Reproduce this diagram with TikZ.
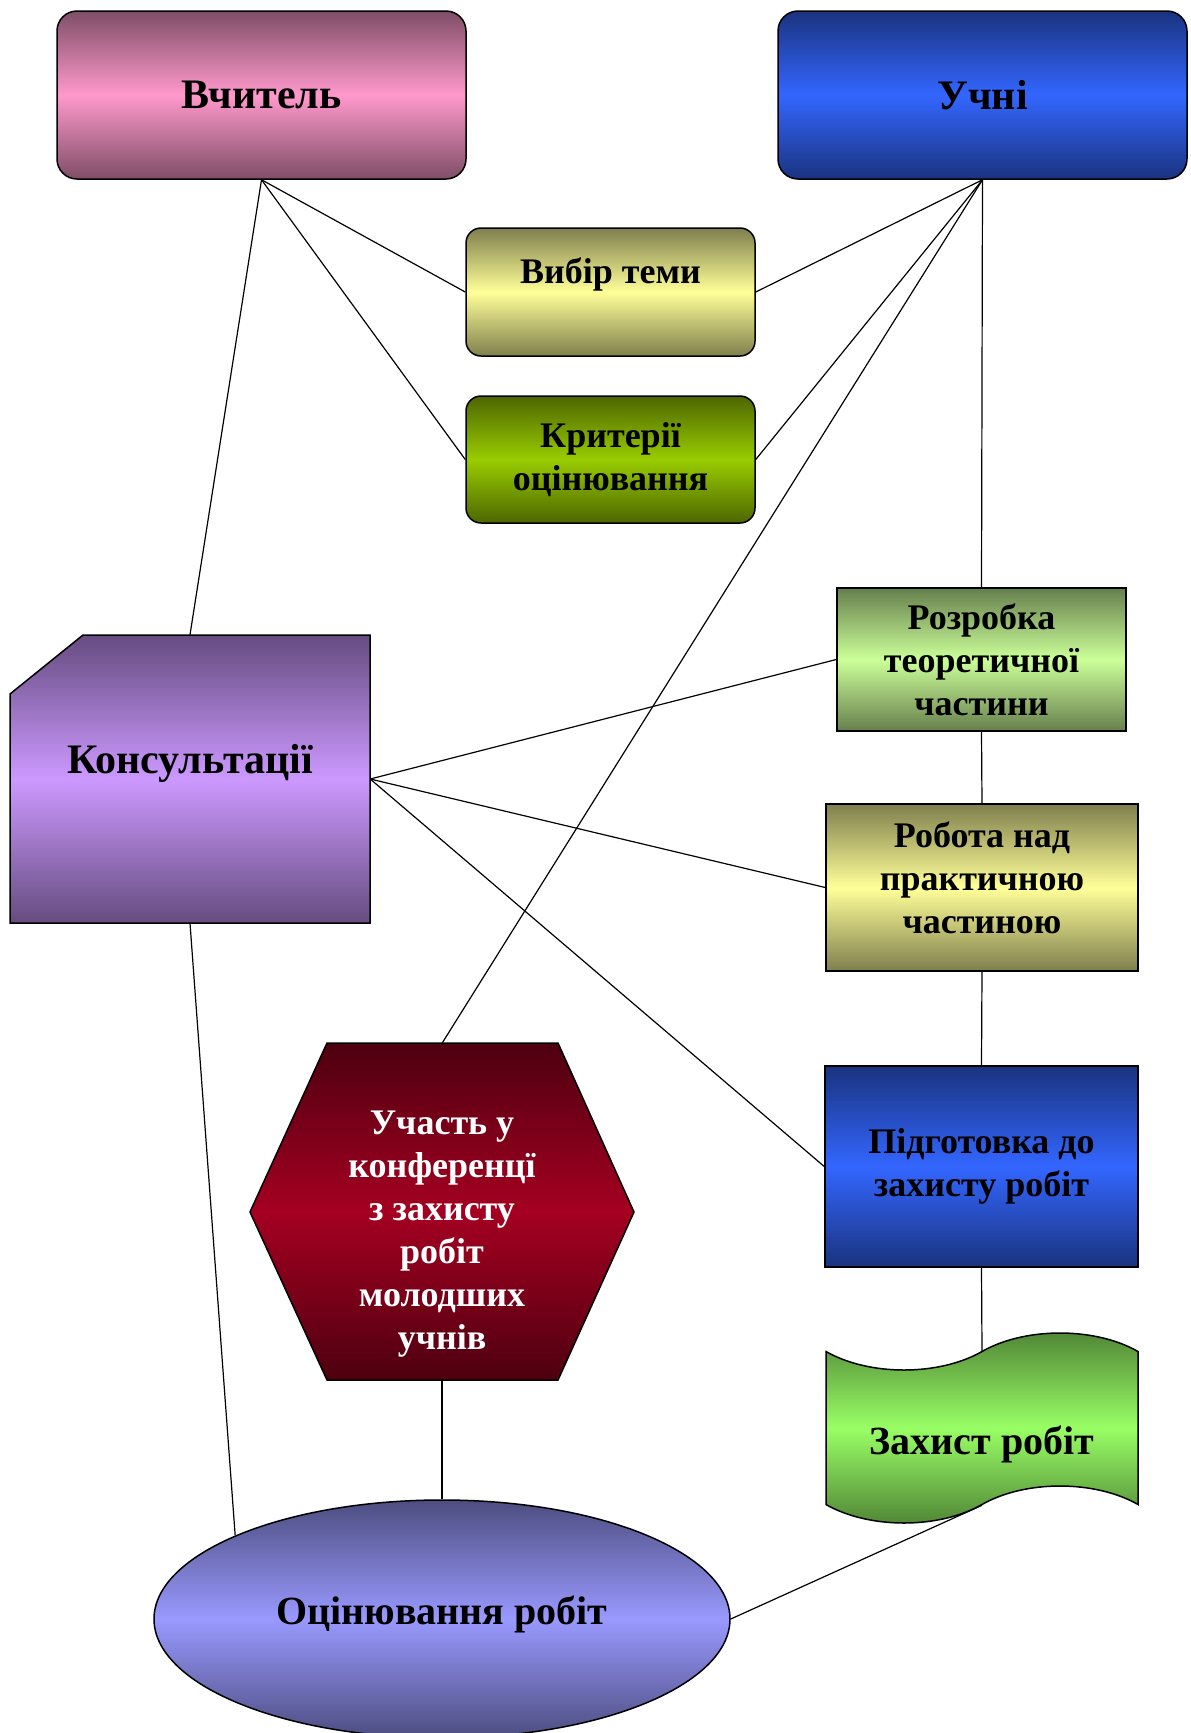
\documentclass[tikz,border=0pt]{standalone}
\usepackage{fontspec}
\setmainfont{Liberation Serif}
\usetikzlibrary{shapes, shapes.symbols, positioning}

\definecolor{pinkmid}{HTML}{FF99CC}
\definecolor{pinkedge}{HTML}{7F4D66}
\definecolor{bluemid}{HTML}{3366FF}
\definecolor{blueedge}{HTML}{1A337F}
\definecolor{yellowmid}{HTML}{FFFF99}
\definecolor{yellowedge}{HTML}{7F7F4D}
\definecolor{olivemid}{HTML}{99CC00}
\definecolor{oliveedge}{HTML}{4D6600}
\definecolor{violetmid}{HTML}{CC99FF}
\definecolor{violetedge}{HTML}{664C80}
\definecolor{limemid}{HTML}{CCFF99}
\definecolor{limeedge}{HTML}{667F4D}
\definecolor{greenmid}{HTML}{99FF66}
\definecolor{greenedge}{HTML}{4D8033}
\definecolor{redmid}{HTML}{A50021}
\definecolor{rededge}{HTML}{4D0010}
\definecolor{lilacmid}{HTML}{9999FF}
\definecolor{lilacedge}{HTML}{4D4D80}

\begin{document}
\begin{tikzpicture}[x=1pt, y=-1pt,
    box/.style={draw, line width=1.5pt, align=center, inner sep=2pt,
        font=\bfseries\fontsize{36}{43}\selectfont},
    grad/.style 2 args={top color=#2, bottom color=#2, middle color=#1},
    link/.style={line width=1.2pt}]
        \useasboundingbox (0,0) rectangle (1191,1733);

        % Draw the blocks
        \node (vchytel) [box, grad={pinkmid}{pinkedge}, rounded corners=20pt, minimum width=409pt, minimum height=168pt, font=\bfseries\fontsize{42}{50}\selectfont] at (261.5,95) {Вчитель};
        \node (uchni)   [box, grad={bluemid}{blueedge}, rounded corners=20pt, minimum width=409pt, minimum height=168pt, font=\bfseries\fontsize{42}{50}\selectfont] at (982.5,95) {Учні};
        \node (vybir)   [box, grad={yellowmid}{yellowedge}, rounded corners=15pt, minimum width=289pt, minimum height=128pt] at (610.5,292) {Вибір теми\\\mbox{}};
        \node (kryterii) [box, grad={olivemid}{oliveedge}, rounded corners=15pt, minimum width=289pt, minimum height=127pt] at (610.5,459.5) {Критерії\\оцінювання};

        % consultations: cut corner
        \path [draw, line width=1.5pt, grad={violetmid}{violetedge}] (10,923) -- (10,694) -- (83,635) -- (370,635) -- (370,923) -- cycle;
        \node (kons) [minimum width=360pt, minimum height=288pt, inner sep=0pt, font=\bfseries\fontsize{42}{50}\selectfont] at (190,779) {\raisebox{16pt}[\height][\depth]{Консультації}};

        \node (rozrobka)   [box, grad={limemid}{limeedge}, minimum width=289pt, minimum height=143pt] at (981.5,659.5) {Розробка\\теоретичної\\частини};
        \node (robota)     [box, grad={yellowmid}{yellowedge}, minimum width=312pt, minimum height=167pt] at (982,887.5) {\raisebox{6pt}[\height][\depth]{\begin{tabular}{@{}c@{}}Робота над\\практичною\\частиною\end{tabular}}};
        \node (pidgotovka) [box, grad={bluemid}{blueedge}, minimum width=313pt, minimum height=201pt] at (981.5,1166.5) {Підготовка до\\захисту робіт};
        \node (zahyst)     [box, tape, grad={greenmid}{greenedge}, tape bend height=37pt, minimum width=312pt, minimum height=190pt, font=\bfseries\fontsize{40}{48}\selectfont] at (982,1428) {\raisebox{-16pt}[\height][\depth]{Захист робіт}};

        % participation: hexagon
        \path [draw, line width=1.5pt, grad={redmid}{rededge}] (327,1043) -- (558,1043) -- (634,1212) -- (558,1380) -- (327,1380) -- (250,1212) -- cycle;
        \node (uchast) [minimum width=384pt, minimum height=337pt, inner sep=0pt, align=center, text=white, font=\bfseries\fontsize{36}{43}\selectfont] at (442,1212) {\raisebox{-21pt}[\height][\depth]{\begin{tabular}{@{}c@{}}Участь у\\конференцї\\з захисту\\робіт\\молодших\\учнів\end{tabular}}};

        \node (ocinyuvannia) [box, ellipse, grad={lilacmid}{lilacedge}, minimum width=576pt, minimum height=238pt, font=\bfseries\fontsize{40}{48}\selectfont] at (442,1619) {\raisebox{5pt}[\height][\depth]{Оцінювання робіт}};

        % Draw the connecting lines
        \draw [link] (vchytel.south) -- (vybir.west);
        \draw [link] (vchytel.south) -- (kryterii.west);
        \draw [link] (vchytel.south) -- (kons.north);
        \draw [link] (uchni.south) -- (vybir.east);
        \draw [link] (uchni.south) -- (kryterii.east);
        \draw [link] (uchni.south) -- (rozrobka.north);
        \draw [link] (uchni.south) -- (uchast.north);
        \draw [link] (rozrobka.south) -- (robota.north);
        \draw [link] (robota.south) -- (pidgotovka.north);
        \draw [link] (pidgotovka.south) -- (zahyst.north);
        \draw [link] (kons.east) -- (rozrobka.west);
        \draw [link] (kons.east) -- (robota.west);
        \draw [link] (kons.east) -- (pidgotovka.west);
        \draw [link] (kons.south) -- (ocinyuvannia.158);
        \draw [link] (uchast.south) -- (ocinyuvannia.north);
        \draw [link] (ocinyuvannia.east) -- (zahyst.south);
    \end{tikzpicture}
\end{document}
